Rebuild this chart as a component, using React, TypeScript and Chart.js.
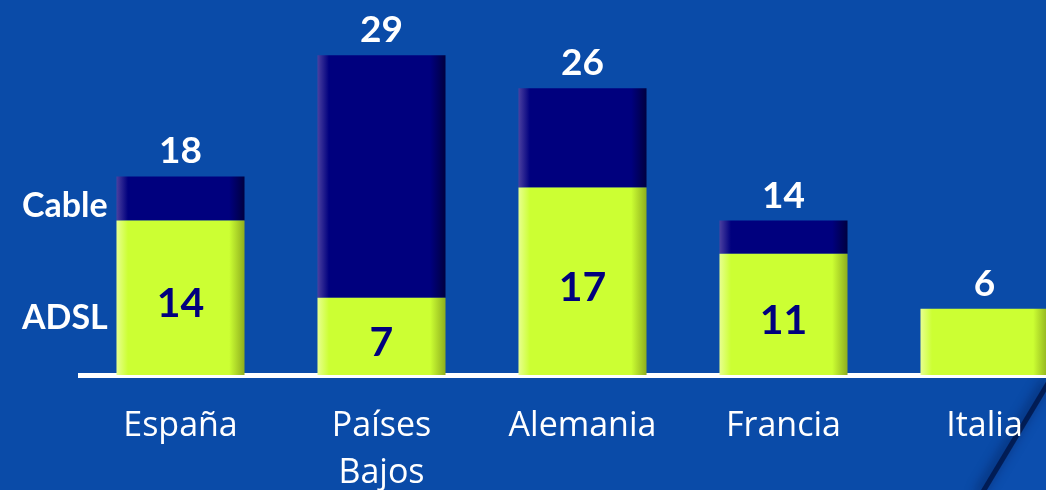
import React, { useEffect, useRef } from "react";
import { Chart, registerables } from "chart.js";

Chart.register(...registerables);

const categories: (string | string[])[] = ["España", ["Países", "Bajos"], "Alemania", "Francia", "Italia"];
const adslValues = [14, 7, 17, 11, 6];
const cableValues = [4, 22, 9, 3, 0];
const seriesNames = ["ADSL", "Cable"];

const BG = "#0A4BA8";
const YELLOW = "#CCFF33";
const NAVY = "#00007E";
const BAR_PCT = 0.637;
const FONT = "Lato, 'Open Sans', sans-serif";
const TICK_FONT = "'Open Sans', Lato, sans-serif";

function gradientFor(light: string, base: string, dark: string) {
  return (c: any) => {
    const chart = c.chart;
    const xs = chart.scales && chart.scales.x;
    if (!chart.chartArea || !xs) return base;
    const cx = xs.getPixelForValue(c.dataIndex);
    const half = ((xs.width / categories.length) * BAR_PCT) / 2;
    const g = chart.ctx.createLinearGradient(cx - half, 0, cx + half, 0);
    g.addColorStop(0, light);
    g.addColorStop(0.09, base);
    g.addColorStop(0.88, base);
    g.addColorStop(1, dark);
    return g;
  };
}

const bgPlugin = {
  id: "bgPlugin",
  beforeDraw(chart: any) {
    const ctx = chart.ctx;
    ctx.save();
    ctx.fillStyle = BG;
    ctx.fillRect(0, 0, chart.width, chart.height);
    // slightly lighter fold in the lower right corner
    ctx.fillStyle = "#0C4EAE";
    ctx.beginPath();
    ctx.moveTo(983, 492);
    ctx.lineTo(1050, 380);
    ctx.lineTo(1090, 380);
    ctx.lineTo(1090, 492);
    ctx.closePath();
    ctx.fill();
    // dark shadowed edge
    ctx.strokeStyle = "rgba(0,20,70,0.8)";
    ctx.lineWidth = 5;
    ctx.shadowColor = "rgba(0,15,60,0.9)";
    ctx.shadowBlur = 12;
    ctx.shadowOffsetX = -3;
    ctx.beginPath();
    ctx.moveTo(981, 495);
    ctx.lineTo(1050, 380);
    ctx.stroke();
    ctx.restore();
  },
};

const labelPlugin = {
  id: "labelPlugin",
  afterDatasetsDraw(chart: any) {
    const ctx = chart.ctx;
    const xs = chart.scales.x;
    const ys = chart.scales.y;
    ctx.save();
    // series names on the left
    ctx.fillStyle = "#FFFFFF";
    ctx.font = `bold 34px ${FONT}`;
    ctx.textAlign = "left";
    ctx.textBaseline = "alphabetic";
    ctx.fillText(seriesNames[1], 22, ys.getPixelForValue(15.4) + 12);
    ctx.fillText(seriesNames[0], 22, ys.getPixelForValue(5.3) + 12);
    ctx.textAlign = "center";
    categories.forEach((_, i) => {
      const cx = xs.getPixelForValue(i);
      const total = adslValues[i] + cableValues[i];
      // total above the bar
      ctx.fillStyle = "#FFFFFF";
      ctx.font = `bold 37px ${FONT}`;
      ctx.fillText(String(total), cx, ys.getPixelForValue(total) - 13);
      // ADSL value inside the yellow segment (not for the single-segment bar)
      if (cableValues[i] > 0) {
        const mid = (ys.getPixelForValue(0) + ys.getPixelForValue(adslValues[i])) / 2 + 5;
        ctx.fillStyle = NAVY;
        ctx.font = `bold 41px ${FONT}`;
        ctx.fillText(String(adslValues[i]), cx, mid + 14.5);
      }
    });
    ctx.restore();
  },
};

export default function App() {
  const ref = useRef<HTMLCanvasElement | null>(null);

  useEffect(() => {
    if (!ref.current) return;
    const chart = new Chart(ref.current, {
      type: "bar",
      data: {
        labels: categories as any,
        datasets: [
          {
            label: seriesNames[0],
            data: adslValues,
            backgroundColor: gradientFor("#E8FF90", YELLOW, "#8EAE1E") as any,
            borderWidth: 0,
          },
          {
            label: seriesNames[1],
            data: cableValues,
            backgroundColor: gradientFor("#4B40A0", NAVY, "#000040") as any,
            borderWidth: 0,
          },
        ],
      },
      options: {
        responsive: false,
        animation: false,
        devicePixelRatio: 1,
        layout: { padding: { left: 80, right: 0, top: 0, bottom: 0 } },
        datasets: { bar: { barPercentage: BAR_PCT, categoryPercentage: 1 } },
        plugins: {
          legend: { display: false },
          tooltip: { enabled: false },
        },
        scales: {
          x: {
            stacked: true,
            z: 1,
            grid: { display: false, drawTicks: false },
            border: { display: true, color: "#FFFFFF", width: 5 },
            ticks: {
              color: "#FFFFFF",
              padding: 28,
              font: { family: TICK_FONT, size: 34, lineHeight: 1.38 },
              maxRotation: 0,
              autoSkip: false,
            },
            afterFit: (scale: any) => {
              scale.height = 115;
            },
          },
          y: {
            stacked: true,
            display: false,
            min: 0,
            max: 34,
          },
        },
      },
      plugins: [bgPlugin, labelPlugin],
    });
    return () => chart.destroy();
  }, []);

  return (
    <div
      style={{
        position: "absolute",
        left: 0,
        top: 0,
        width: 1046,
        height: 490,
        overflow: "hidden",
        background: BG,
      }}
    >
      <canvas ref={ref} width={1085} height={490} style={{ display: "block" }} />
    </div>
  );
}
